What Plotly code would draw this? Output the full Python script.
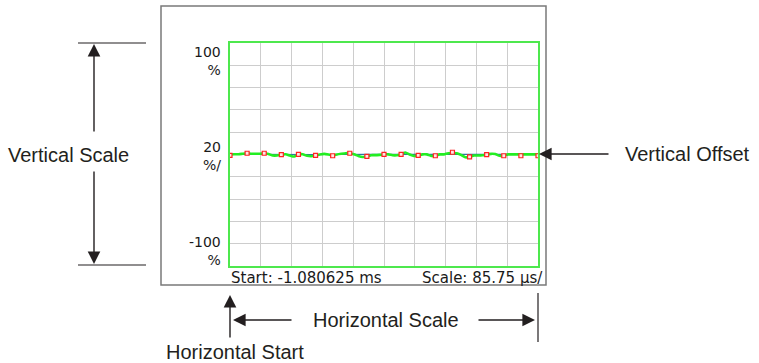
import numpy as np
import plotly.graph_objects as go

# ── Values shown in the chart ────────────────────────────────────────────────
START_US = -1080.625          # Start: -1.080625 ms
SCALE_US = 85.75              # Scale: 85.75 µs/div
N_DIV = 10
Y_MIN, Y_MAX, Y_DIV = -100, 100, 20

# green trace (%), 4 samples per marker interval
green_pct = [
    0, 0.2, 0.2, 0.7,
    1.1, 0.7, 0.7, 0.7,
    1.1, 0.4, -0.9, -0.9,
    -0.2, 0.2, -0.9, -1.8,
    0, 0.2, -1.2, -1.6,
    -0.9, 0, 0.6, 0,
    -0.9, 0, 0.6, 1.1,
    1.1, 0.2, -1.3, -2.2,
    -1.8, -0.6, -0.6, -0.3,
    0.1, 0.1, -0.7, -0.7,
    0.1, 1.8, 0, -1.3,
    -0.8, 0.1, 0.1, -1.3,
    -1.1, 0.1, 0.1, 1.2,
    1.3, 1.2, -0.4, -2.5,
    -2.2, -0.9, -0.9, -0.7,
    0, 0.6, 0.4, -1.2,
    -1.0, 0.1, 0.1, 0.1,
    0.1, 0.1, 0.1, 0.1,
    0.1,
]
# red markers (%)
marker_pct = [-0.7, 1.1, 1.1, -0.2, 0.2, -0.7, -1.1, 1.1, -1.6, 0.2,
              0.2, -0.7, -1.1, 2.0, -2.2, -0.2, -1.1, -1.1, -1.1]
# blue trace (%)
blue_pct = [0.1, 0.2, 0.3, 0.2, 0.1, 0.0, 0.0, 0.3, 0.1, 0.2,
            0.2, 0.1, 0.1, 0.4, -0.2, 0.2, 0.2, 0.2, 0.2]

STOP_US = START_US + N_DIV * SCALE_US
x_green = np.linspace(START_US, STOP_US, len(green_pct))
x_mark = np.linspace(START_US, STOP_US, len(marker_pct))
x_blue = np.linspace(START_US, STOP_US, len(blue_pct))

# ── layout helpers (pixel -> paper) ──────────────────────────────────────────
W, H = 759, 363
L, R, T, B = 230, 538, 43, 266


def px(x):
    return (x - L) / (R - L)


def py(y):
    return (B - y) / (B - T)


INK = "#231f20"
CALLOUT_FONT = dict(family="Liberation Sans, Arial, sans-serif", size=20, color=INK)
SCREEN_FONT = dict(family="DejaVu Sans, Verdana, sans-serif", size=14, color="#1a1a1a")
BOTTOM_FONT = dict(family="DejaVu Sans, Verdana, sans-serif", size=15, color="#1a1a1a")

fig = go.Figure()
fig.add_trace(go.Scatter(x=x_blue, y=blue_pct, mode="lines",
                         line=dict(color="#2f6fa6", width=1.2), hoverinfo="skip"))
fig.add_trace(go.Scatter(x=x_green, y=green_pct, mode="lines",
                         line=dict(color="#22ee22", width=2.6, shape="spline", smoothing=0.4),
                         hoverinfo="skip"))
fig.add_trace(go.Scatter(x=x_mark, y=marker_pct, mode="markers",
                         marker=dict(symbol="square", size=4, color="#ffe6e6",
                                     line=dict(color="#ff2222", width=1.2)),
                         hoverinfo="skip"))

fig.update_xaxes(range=[START_US, STOP_US], tick0=START_US, dtick=SCALE_US,
                 showticklabels=False, ticks="", showgrid=True,
                 gridcolor="#cdcdcd", gridwidth=1, zeroline=False,
                 showline=True, mirror=True, linecolor="#4ee84e", linewidth=2)
fig.update_yaxes(range=[Y_MIN, Y_MAX], tick0=Y_MIN, dtick=Y_DIV,
                 showticklabels=False, ticks="", showgrid=True,
                 gridcolor="#cdcdcd", gridwidth=1, zeroline=False,
                 showline=True, mirror=True, linecolor="#4ee84e", linewidth=2)

shapes = [
    # instrument screen frame
    dict(type="rect", xref="paper", yref="paper", x0=px(161), x1=px(546),
         y0=py(285), y1=py(6), line=dict(color="#7a7a7a", width=1.5), layer="below"),
    # vertical scale limit lines
    dict(type="line", xref="paper", yref="paper", x0=px(78), x1=px(146),
         y0=py(43), y1=py(43), line=dict(color=INK, width=1.2)),
    dict(type="line", xref="paper", yref="paper", x0=px(78), x1=px(146),
         y0=py(265), y1=py(265), line=dict(color=INK, width=1.2)),
    # horizontal scale end tick
    dict(type="line", xref="paper", yref="paper", x0=px(538), x1=px(538),
         y0=py(293), y1=py(342), line=dict(color=INK, width=1.2)),
]


def arrow(head, tail):
    return dict(xref="paper", yref="paper", x=px(head[0]), y=py(head[1]),
                ax=tail[0] - head[0], ay=tail[1] - head[1], text="",
                showarrow=True, arrowhead=2, arrowsize=1.8, arrowwidth=1.4,
                arrowcolor=INK, standoff=0, startstandoff=0)


def label(text, x, y, xanchor="center", font=CALLOUT_FONT, align="center"):
    return dict(xref="paper", yref="paper", x=px(x), y=py(y), text=text,
                showarrow=False, xanchor=xanchor, yanchor="middle",
                font=font, align=align)


annotations = [
    arrow((94, 44), (94, 133)),
    arrow((94, 264), (94, 170)),
    arrow((539, 154), (610, 154)),
    arrow((233, 320), (293, 320)),
    arrow((535, 320), (477, 320)),
    arrow((230, 295), (230, 339)),
    label("Vertical Scale", 68, 155),
    label("Vertical Offset", 687, 154),
    label("Horizontal Scale", 386, 320),
    label("Horizontal Start", 235, 352),
    label("100<br>%", 223, 61, xanchor="right", font=SCREEN_FONT, align="right"),
    label("20<br>%/", 223, 156, xanchor="right", font=SCREEN_FONT, align="right"),
    label("-100<br>%", 223, 251, xanchor="right", font=SCREEN_FONT, align="right"),
    label("Start: -1.080625 ms", 229, 278, xanchor="left", font=BOTTOM_FONT),
    label("Scale: 85.75 µs/", 545, 278, xanchor="right", font=BOTTOM_FONT),
]

fig.update_layout(
    width=W, height=H,
    margin=dict(l=L, r=W - R, t=T, b=H - B),
    paper_bgcolor="white", plot_bgcolor="white",
    showlegend=False,
    shapes=shapes,
    annotations=annotations,
)

# drop the page's default body margin so the figure sits at the window origin
fig.write_html("out.html", config={"displayModeBar": False},
               post_script="document.body.style.margin='0px';")
